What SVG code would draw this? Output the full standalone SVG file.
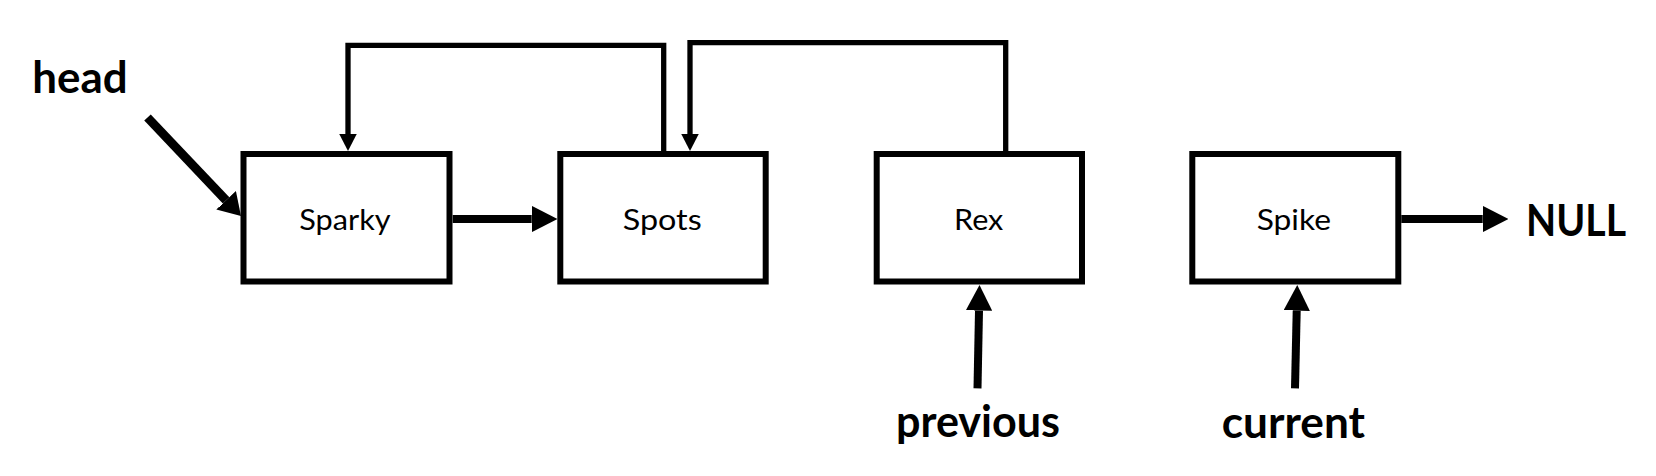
<svg xmlns="http://www.w3.org/2000/svg" width="1656" height="476" viewBox="0 0 1656 476">
  <style>
    .box { fill: #ffffff; stroke: #000000; stroke-width: 6; }
    .lbl { font-family: Lato, "Open Sans", "Liberation Sans", sans-serif; font-size: 28px; fill: #000000; }
    .big { font-family: Lato, "Open Sans", "Liberation Sans", sans-serif; font-size: 43px; font-weight: bold; fill: #000000; }
    .thin { fill: none; stroke: #000000; stroke-width: 5.3; stroke-linejoin: miter; marker-end: url(#arr); }
    .thick { fill: none; stroke: #000000; stroke-width: 8; marker-end: url(#arr); }
    .headline { fill: none; stroke: #000000; stroke-width: 9; marker-end: url(#arrHead); }
  </style>
  <defs>
    <marker id="arr" viewBox="0 0 10 10" refX="0" refY="5" markerWidth="3.2" markerHeight="3.3" markerUnits="strokeWidth" orient="auto" preserveAspectRatio="none">
      <path d="M0,0 L10,5 L0,10 Z" fill="#000000"/>
    </marker>
    <marker id="arrHead" viewBox="0 0 10 10" refX="0" refY="5" markerWidth="2.4" markerHeight="3" markerUnits="strokeWidth" orient="auto" preserveAspectRatio="none">
      <path d="M0,0 L10,5 L0,10 Z" fill="#000000"/>
    </marker>
  </defs>

  <g id="connectors">
    <path class="thin" d="M663.7,154 V45.3 H348 V134"/>
    <path class="thin" d="M1005.7,154 V42.7 H690 V134"/>
    <path class="headline" d="M147.5,117.5 L226.1,200.3"/>
    <path class="thick" d="M452.7,219 H531.7"/>
    <path class="thick" d="M1401.3,219 H1482.7"/>
    <path class="thick" d="M977.5,388.3 L979,310.6"/>
    <path class="thick" d="M1295,388.3 L1296.7,310.6"/>
  </g>

  <g id="node-sparky">
    <rect class="box" x="243.5" y="154" width="206" height="127.5"/>
    <text class="lbl" x="299.3" y="230" textLength="91.3" lengthAdjust="spacingAndGlyphs">Sparky</text>
  </g>
  <g id="node-spots">
    <rect class="box" x="560.3" y="154" width="205.4" height="127.5"/>
    <text class="lbl" x="622.7" y="230" textLength="79" lengthAdjust="spacingAndGlyphs">Spots</text>
  </g>
  <g id="node-rex">
    <rect class="box" x="876.7" y="154" width="205.3" height="127.5"/>
    <text class="lbl" x="954" y="230" textLength="49.3" lengthAdjust="spacingAndGlyphs">Rex</text>
  </g>
  <g id="node-spike">
    <rect class="box" x="1192.3" y="154" width="206" height="127.5"/>
    <text class="lbl" x="1256.7" y="230" textLength="74.3" lengthAdjust="spacingAndGlyphs">Spike</text>
  </g>

  <g id="label-head">
    <text class="big" x="32.3" y="93.3" textLength="95.4" lengthAdjust="spacingAndGlyphs">head</text>
  </g>
  <g id="label-null">
    <text class="big" x="1526" y="236" font-size="45" textLength="100" lengthAdjust="spacingAndGlyphs">NULL</text>
  </g>
  <g id="label-previous">
    <text class="big" x="896" y="437" textLength="164" lengthAdjust="spacingAndGlyphs">previous</text>
  </g>
  <g id="label-current">
    <text class="big" x="1221.7" y="437.5" textLength="143.3" lengthAdjust="spacingAndGlyphs">current</text>
  </g>
</svg>
